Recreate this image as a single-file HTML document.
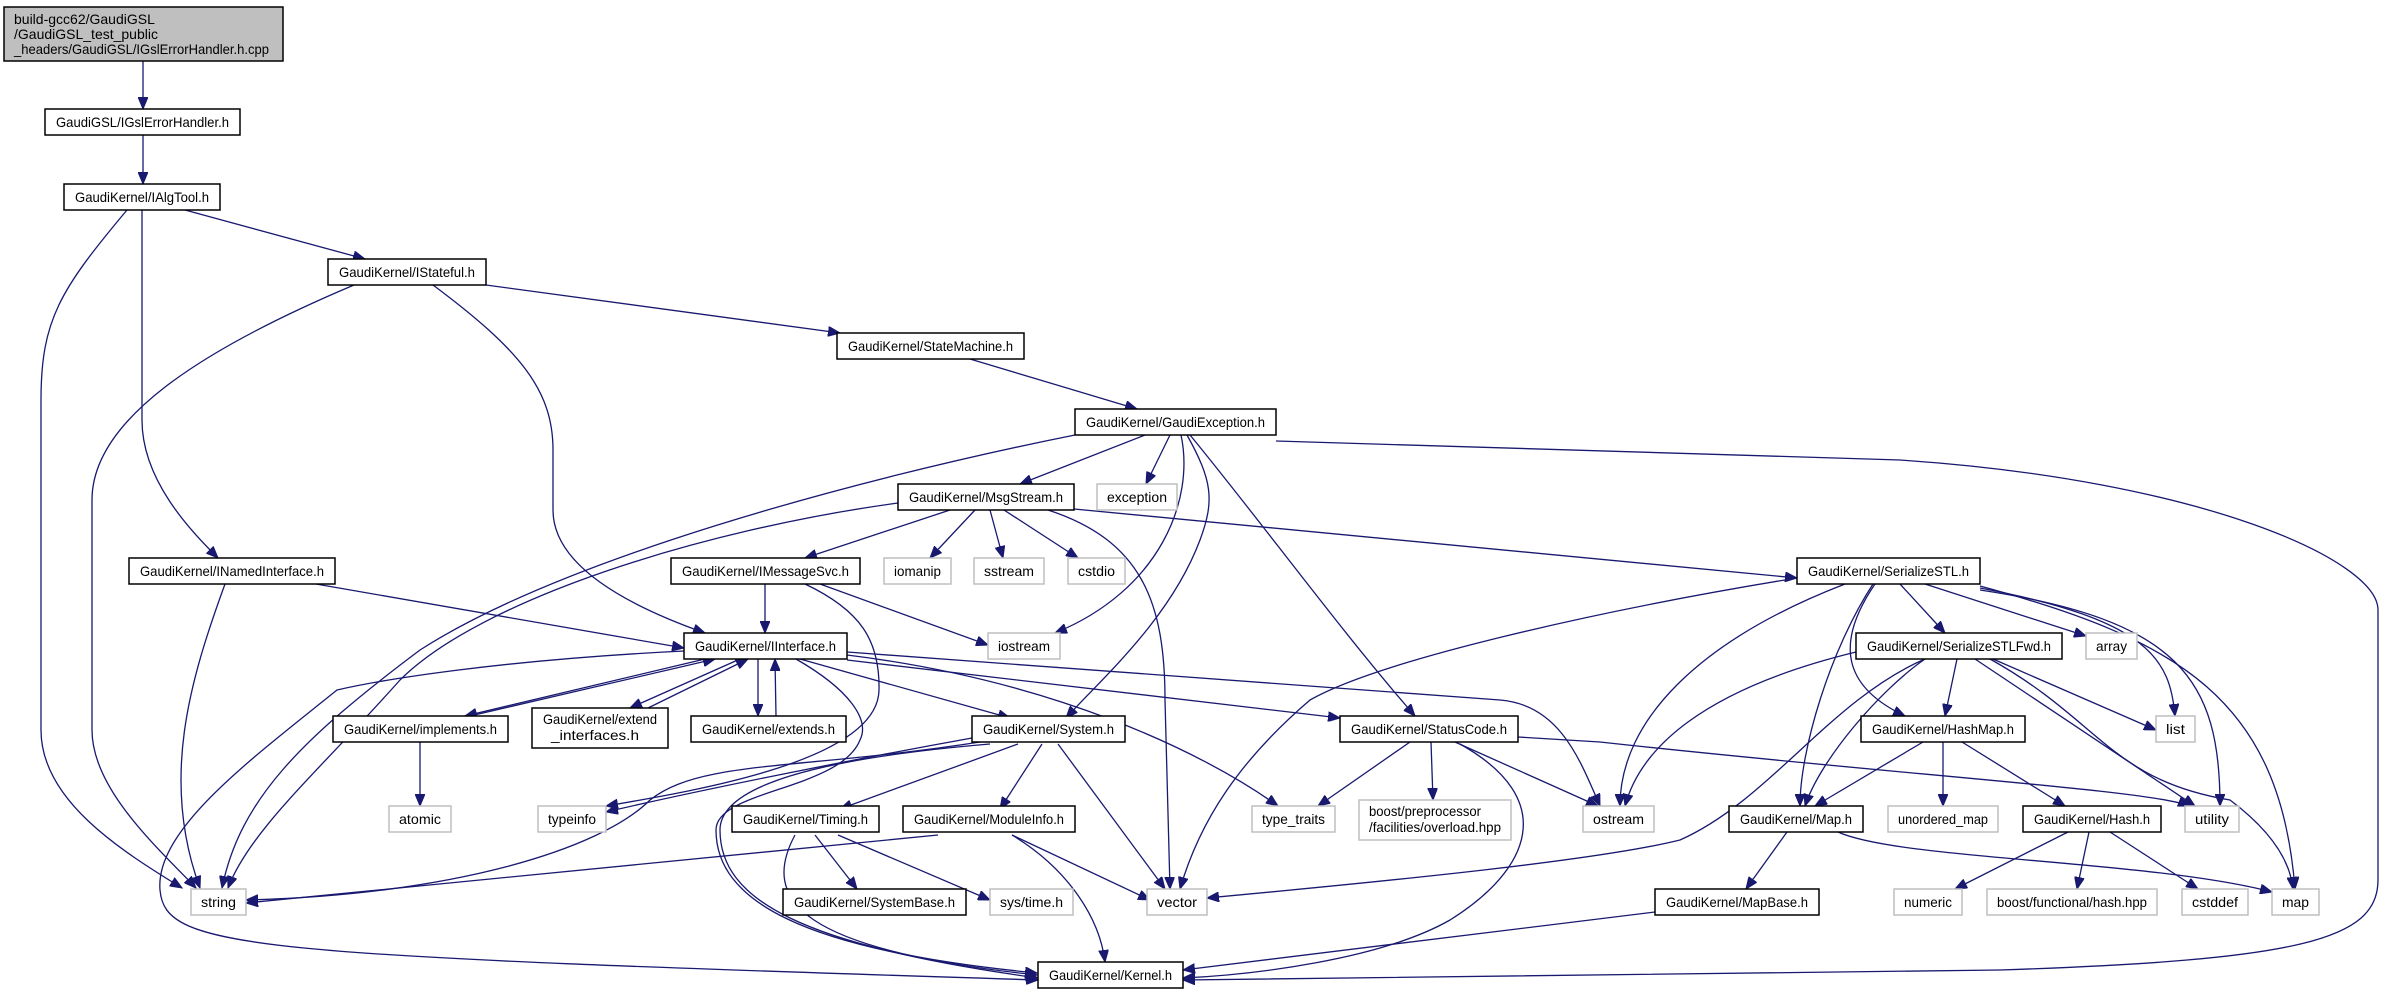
<!DOCTYPE html>
<html><head><meta charset="utf-8"><style>
html,body{margin:0;padding:0;background:#fff}
svg{display:block}
text{font-family:"Liberation Sans",sans-serif;font-size:14px;fill:#000}
.e{fill:none;stroke:#191970;stroke-width:1.3}
.n{fill:#fff;stroke:#000;stroke-width:1.5}
.x{fill:#fff;stroke:#bfbfbf;stroke-width:1.5}
</style></head><body>
<svg width="2383" height="995" viewBox="0 0 2383 995" xmlns="http://www.w3.org/2000/svg">
<defs><marker id="a" markerUnits="userSpaceOnUse" markerWidth="14" markerHeight="10" refX="12" refY="5" orient="auto"><path d="M0,0 L12,5 L0,10 z" fill="#191970" stroke="#191970"/></marker></defs>
<g class="e" marker-end="url(#a)">
<path d="M143,61 L143,109"/>
<path d="M143,135 L143,184"/>
<path d="M185,210 L365,259"/>
<path d="M127,210 C60,290 41,320 41,400 L41,730 C41,800 120,850 182,888"/>
<path d="M142,210 L142,420 C142,480 190,530 218,558"/>
<path d="M354,285 C200,350 92,420 92,500 L92,730 C92,790 160,850 196,888"/>
<path d="M433,285 C520,350 553,390 553,450 L553,510 C553,570 640,610 705,633"/>
<path d="M486,285 L840,333"/>
<path d="M970,359 L1137,409"/>
<path d="M1145,435 L1020,484"/>
<path d="M1170,435 L1146,484"/>
<path d="M1181,435 C1195,500 1160,590 1055,633"/>
<path d="M1187,435 C1212,480 1215,500 1200,540 C1170,620 1100,680 1066,718"/>
<path d="M1190,435 C1260,520 1340,630 1415,716"/>
<path d="M1075,435 C850,480 560,560 420,650 C300,740 240,800 222,888"/>
<path d="M1276,441 L1900,460 C2200,480 2378,560 2378,610 L2378,880 C2378,940 2300,960 2000,970 L1183,980"/>
<path d="M950,510 L805,558"/>
<path d="M975,510 L930,558"/>
<path d="M990,510 L1003,558"/>
<path d="M1004,510 L1078,558"/>
<path d="M1048,510 C1140,540 1165,600 1165,700 L1170,889"/>
<path d="M1074,509 L1797,578"/>
<path d="M898,503 C700,530 480,600 400,680 C320,770 250,830 228,888"/>
<path d="M316,584 L684,648"/>
<path d="M225,584 C190,680 160,780 200,888"/>
<path d="M765,584 L765,633"/>
<path d="M820,584 L988,645"/>
<path d="M805,584 C860,610 880,640 879,690 C878,760 700,790 606,806"/>
<path d="M705,659 L465,716"/>
<path d="M470,716 L715,659"/>
<path d="M740,659 L630,708"/>
<path d="M648,708 L748,659"/>
<path d="M758,659 L758,716"/>
<path d="M776,716 L775,659"/>
<path d="M800,659 L1010,718"/>
<path d="M847,660 L1340,718"/>
<path d="M847,655 C1050,680 1200,750 1278,806"/>
<path d="M847,652 L1500,700 C1560,705 1580,760 1600,806"/>
<path d="M796,659 C850,690 870,720 860,740 C840,790 716,790 716,830 C716,900 800,950 1037,973"/>
<path d="M684,651 C500,660 380,680 337,690 C250,760 155,830 160,890 C165,950 250,955 1038,980"/>
<path d="M420,742 L420,806"/>
<path d="M980,742 C800,770 700,760 650,800 C600,850 450,895 246,900"/>
<path d="M972,738 C850,760 700,790 606,812"/>
<path d="M1018,744 L840,809"/>
<path d="M1042,744 L1000,809"/>
<path d="M1058,744 L1165,889"/>
<path d="M990,744 C800,760 720,790 720,830 C720,900 800,945 1038,978"/>
<path d="M1410,742 L1318,806"/>
<path d="M1431,742 L1433,800"/>
<path d="M1455,742 L1598,806"/>
<path d="M1518,737 L1600,742 C1900,775 2150,790 2190,806"/>
<path d="M1460,744 C1560,800 1530,870 1450,920 C1380,960 1250,975 1183,978"/>
<path d="M815,835 L857,889"/>
<path d="M838,835 L990,900"/>
<path d="M795,835 C760,900 800,950 1037,975"/>
<path d="M1012,835 L1150,900"/>
<path d="M1012,835 C1070,870 1100,920 1105,962"/>
<path d="M938,835 L246,903"/>
<path d="M1900,584 L1945,633"/>
<path d="M1925,584 L2086,636"/>
<path d="M1980,588 C2150,620 2170,660 2175,716"/>
<path d="M1980,590 C2180,620 2220,680 2220,806"/>
<path d="M1980,586 C2180,640 2280,700 2295,889"/>
<path d="M1845,584 C1700,640 1620,720 1620,806"/>
<path d="M1797,578 C1600,610 1380,660 1310,700 C1240,760 1200,820 1180,889"/>
<path d="M1875,584 C1830,650 1850,690 1905,716"/>
<path d="M1873,584 C1830,650 1800,750 1800,806"/>
<path d="M1957,659 L1945,716"/>
<path d="M1925,659 C1880,690 1820,760 1805,806"/>
<path d="M1993,659 L2156,730"/>
<path d="M1975,659 L2195,806"/>
<path d="M1990,659 C2100,720 2110,780 2230,800 C2270,830 2290,860 2293,889"/>
<path d="M1856,652 C1700,690 1640,750 1625,806"/>
<path d="M1925,659 C1830,700 1770,800 1680,840 C1600,860 1400,880 1207,898"/>
<path d="M1923,742 L1815,806"/>
<path d="M1943,742 L1943,806"/>
<path d="M1962,742 L2065,806"/>
<path d="M1787,832 L1746,889"/>
<path d="M1838,832 C1900,860 2150,860 2272,892"/>
<path d="M2068,832 L1955,889"/>
<path d="M2089,832 L2077,889"/>
<path d="M2110,832 L2198,889"/>
<path d="M1655,912 L1183,970"/>
</g>
<rect x="4" y="7" width="279" height="54" fill="#bfbfbf" stroke="#000" stroke-width="1.5"/>
<text x="14" y="24">build-gcc62/GaudiGSL</text>
<text x="14" y="39">/GaudiGSL_test_public</text>
<text x="14" y="54" textLength="255" lengthAdjust="spacingAndGlyphs">_headers/GaudiGSL/IGslErrorHandler.h.cpp</text>

<rect class="n" x="45" y="109" width="195" height="26"/><text x="56" y="127" textLength="173" lengthAdjust="spacingAndGlyphs">GaudiGSL/IGslErrorHandler.h</text>
<rect class="n" x="64" y="184" width="156" height="26"/><text x="75" y="202" textLength="134" lengthAdjust="spacingAndGlyphs">GaudiKernel/IAlgTool.h</text>
<rect class="n" x="328" y="259" width="158" height="26"/><text x="339" y="277" textLength="136" lengthAdjust="spacingAndGlyphs">GaudiKernel/IStateful.h</text>
<rect class="n" x="837" y="333" width="187" height="26"/><text x="848" y="351" textLength="165" lengthAdjust="spacingAndGlyphs">GaudiKernel/StateMachine.h</text>
<rect class="n" x="1075" y="409" width="201" height="26"/><text x="1086" y="427" textLength="179" lengthAdjust="spacingAndGlyphs">GaudiKernel/GaudiException.h</text>
<rect class="n" x="898" y="484" width="176" height="26"/><text x="909" y="502" textLength="154" lengthAdjust="spacingAndGlyphs">GaudiKernel/MsgStream.h</text>
<rect class="x" x="1097" y="484" width="80" height="26"/><text x="1107" y="502" textLength="60" lengthAdjust="spacingAndGlyphs">exception</text>
<rect class="n" x="129" y="558" width="206" height="26"/><text x="140" y="576" textLength="184" lengthAdjust="spacingAndGlyphs">GaudiKernel/INamedInterface.h</text>
<rect class="n" x="671" y="558" width="189" height="26"/><text x="682" y="576" textLength="167" lengthAdjust="spacingAndGlyphs">GaudiKernel/IMessageSvc.h</text>
<rect class="x" x="884" y="558" width="67" height="26"/><text x="894" y="576" textLength="47" lengthAdjust="spacingAndGlyphs">iomanip</text>
<rect class="x" x="974" y="558" width="70" height="26"/><text x="984" y="576" textLength="50" lengthAdjust="spacingAndGlyphs">sstream</text>
<rect class="x" x="1068" y="558" width="57" height="26"/><text x="1078" y="576" textLength="37" lengthAdjust="spacingAndGlyphs">cstdio</text>
<rect class="n" x="1797" y="558" width="183" height="26"/><text x="1808" y="576" textLength="161" lengthAdjust="spacingAndGlyphs">GaudiKernel/SerializeSTL.h</text>
<rect class="n" x="684" y="633" width="163" height="26"/><text x="695" y="651" textLength="141" lengthAdjust="spacingAndGlyphs">GaudiKernel/IInterface.h</text>
<rect class="x" x="988" y="633" width="72" height="26"/><text x="998" y="651" textLength="52" lengthAdjust="spacingAndGlyphs">iostream</text>
<rect class="n" x="1856" y="633" width="206" height="26"/><text x="1867" y="651" textLength="184" lengthAdjust="spacingAndGlyphs">GaudiKernel/SerializeSTLFwd.h</text>
<rect class="x" x="2086" y="633" width="51" height="26"/><text x="2096" y="651" textLength="31" lengthAdjust="spacingAndGlyphs">array</text>
<rect class="n" x="333" y="716" width="175" height="26"/><text x="344" y="734" textLength="153" lengthAdjust="spacingAndGlyphs">GaudiKernel/implements.h</text>
<rect class="n" x="532" y="708" width="136" height="40"/><text x="543" y="724" textLength="114" lengthAdjust="spacingAndGlyphs">GaudiKernel/extend</text><text x="551" y="740" textLength="88" lengthAdjust="spacingAndGlyphs">_interfaces.h</text>
<rect class="n" x="691" y="716" width="155" height="26"/><text x="702" y="734" textLength="133" lengthAdjust="spacingAndGlyphs">GaudiKernel/extends.h</text>
<rect class="n" x="972" y="716" width="153" height="26"/><text x="983" y="734" textLength="131" lengthAdjust="spacingAndGlyphs">GaudiKernel/System.h</text>
<rect class="n" x="1340" y="716" width="178" height="26"/><text x="1351" y="734" textLength="156" lengthAdjust="spacingAndGlyphs">GaudiKernel/StatusCode.h</text>
<rect class="n" x="1861" y="716" width="164" height="26"/><text x="1872" y="734" textLength="142" lengthAdjust="spacingAndGlyphs">GaudiKernel/HashMap.h</text>
<rect class="x" x="2156" y="716" width="39" height="26"/><text x="2166" y="734" textLength="19" lengthAdjust="spacingAndGlyphs">list</text>
<rect class="x" x="389" y="806" width="62" height="26"/><text x="399" y="824" textLength="42" lengthAdjust="spacingAndGlyphs">atomic</text>
<rect class="x" x="538" y="806" width="68" height="26"/><text x="548" y="824" textLength="48" lengthAdjust="spacingAndGlyphs">typeinfo</text>
<rect class="n" x="732" y="806" width="147" height="26"/><text x="743" y="824" textLength="125" lengthAdjust="spacingAndGlyphs">GaudiKernel/Timing.h</text>
<rect class="n" x="903" y="806" width="172" height="26"/><text x="914" y="824" textLength="150" lengthAdjust="spacingAndGlyphs">GaudiKernel/ModuleInfo.h</text>
<rect class="x" x="1252" y="806" width="83" height="26"/><text x="1262" y="824" textLength="63" lengthAdjust="spacingAndGlyphs">type_traits</text>
<rect class="x" x="1359" y="800" width="152" height="40"/><text x="1369" y="816" textLength="112" lengthAdjust="spacingAndGlyphs">boost/preprocessor</text><text x="1369" y="832" textLength="132" lengthAdjust="spacingAndGlyphs">/facilities/overload.hpp</text>
<rect class="x" x="1583" y="806" width="71" height="26"/><text x="1593" y="824" textLength="51" lengthAdjust="spacingAndGlyphs">ostream</text>
<rect class="n" x="1729" y="806" width="134" height="26"/><text x="1740" y="824" textLength="112" lengthAdjust="spacingAndGlyphs">GaudiKernel/Map.h</text>
<rect class="x" x="1888" y="806" width="110" height="26"/><text x="1898" y="824" textLength="90" lengthAdjust="spacingAndGlyphs">unordered_map</text>
<rect class="n" x="2023" y="806" width="138" height="26"/><text x="2034" y="824" textLength="116" lengthAdjust="spacingAndGlyphs">GaudiKernel/Hash.h</text>
<rect class="x" x="2185" y="806" width="54" height="26"/><text x="2195" y="824" textLength="34" lengthAdjust="spacingAndGlyphs">utility</text>
<rect class="x" x="191" y="889" width="55" height="26"/><text x="201" y="907" textLength="35" lengthAdjust="spacingAndGlyphs">string</text>
<rect class="n" x="783" y="889" width="183" height="26"/><text x="794" y="907" textLength="161" lengthAdjust="spacingAndGlyphs">GaudiKernel/SystemBase.h</text>
<rect class="x" x="990" y="889" width="83" height="26"/><text x="1000" y="907" textLength="63" lengthAdjust="spacingAndGlyphs">sys/time.h</text>
<rect class="x" x="1147" y="889" width="60" height="26"/><text x="1157" y="907" textLength="40" lengthAdjust="spacingAndGlyphs">vector</text>
<rect class="n" x="1655" y="889" width="164" height="26"/><text x="1666" y="907" textLength="142" lengthAdjust="spacingAndGlyphs">GaudiKernel/MapBase.h</text>
<rect class="x" x="1894" y="889" width="68" height="26"/><text x="1904" y="907" textLength="48" lengthAdjust="spacingAndGlyphs">numeric</text>
<rect class="x" x="1987" y="889" width="170" height="26"/><text x="1997" y="907" textLength="150" lengthAdjust="spacingAndGlyphs">boost/functional/hash.hpp</text>
<rect class="x" x="2182" y="889" width="66" height="26"/><text x="2192" y="907" textLength="46" lengthAdjust="spacingAndGlyphs">cstddef</text>
<rect class="x" x="2272" y="889" width="47" height="26"/><text x="2282" y="907" textLength="27" lengthAdjust="spacingAndGlyphs">map</text>
<rect class="n" x="1038" y="962" width="145" height="26"/><text x="1049" y="980" textLength="123" lengthAdjust="spacingAndGlyphs">GaudiKernel/Kernel.h</text>
</svg>
</body></html>
